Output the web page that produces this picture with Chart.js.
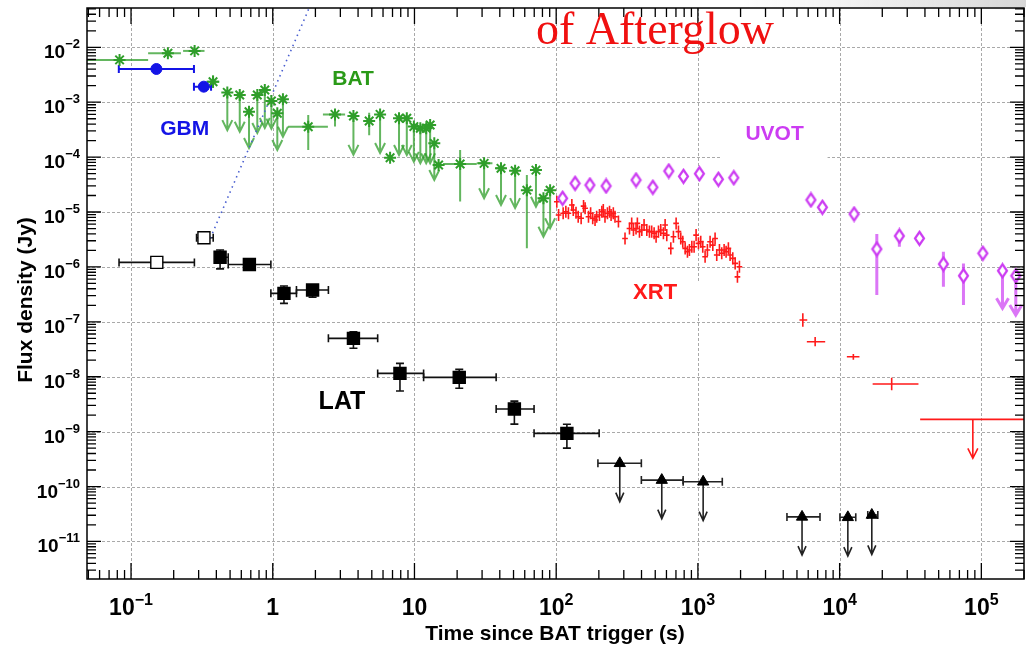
<!DOCTYPE html>
<html>
<head>
<meta charset="utf-8">
<script src="https://cdn.jsdelivr.net/npm/chart.js@4.4.1/dist/chart.umd.min.js"></script>
<style>
  html, body { margin: 0; padding: 0; background: #fff; }
  canvas { display: block; }
</style>
</head>
<body>
<canvas id="lc" width="1026" height="653"></canvas>
<script>
// ---- axis ticks (decade exponents) ----
const xTickExp = [-1, 0, 1, 2, 3, 4, 5];
const yTickExp = [-2, -3, -4, -5, -6, -7, -8, -9, -10, -11];

// ---- GBM ----
const gbmT   = [0.151, 0.326];
const gbmF   = [4.03e-3, 1.92e-3];
const gbmTLo = [0.082, 0.278];
const gbmTHi = [0.278, 0.367];

// ---- BAT (ul = upper limit, fLo is then the arrow end) ----
const batT   = [0.083, 0.182, 0.281, 0.379, 0.478, 0.585, 0.68, 0.778, 0.879, 0.978, 1.077, 1.18,
                1.78, 2.75, 3.71, 4.79, 5.72, 6.73, 7.78, 8.83, 9.9, 11.0, 12.1, 12.9, 13.8, 14.8,
                21, 31, 40.8, 51.3, 62.1, 72, 81.3, 90.6];
const batF   = [5.9e-3, 7.8e-3, 8.6e-3, 2.36e-3, 1.51e-3, 1.35e-3, 6.7e-4, 1.35e-3, 1.67e-3, 1.05e-3, 6.3e-4, 1.13e-3,
                3.58e-4, 6.0e-4, 5.6e-4, 4.55e-4, 6.0e-4, 9.75e-5, 5.1e-4, 5.1e-4, 3.6e-4, 3.35e-4, 3.35e-4, 3.85e-4, 1.78e-4, 7.2e-5,
                7.5e-5, 7.7e-5, 6.25e-5, 5.65e-5, 2.5e-5, 5.8e-5, 1.78e-5, 2.5e-5];
const batTLo = [0.03, 0.132, 0.233, 0.34, null, null, null, null, null, null, null, null,
                1.28, 2.26, null, null, null, null, null, null, null, null, null, null, null, null,
                15.9, 27.5, 37.5, null, null, null, null, null];
const batTHi = [0.132, 0.225, 0.33, 0.42, null, null, null, null, null, null, null, null,
                2.45, 3.24, null, null, null, null, null, null, null, null, null, null, null, null,
                27.5, 35.5, 44, null, null, null, null, null];
const batFLo = [null, null, null, 1.82e-3, 3.1e-4, 2.9e-4, 1.47e-4, 2.75e-4, 3.4e-4, 3.3e-4, 1.35e-4, 2.35e-4,
                1.35e-4, 3.6e-4, 1.1e-4, 2.5e-4, 1.19e-4, null, 1.09e-4, 1.09e-4, 8.2e-5, 7.7e-5, 7.7e-5, 7.7e-5, 3.83e-5, null,
                1.55e-5, 1.78e-5, 1.34e-5, 1.18e-5, 2.2e-6, 1.25e-5, 3.55e-6, 5.05e-6];
const batFHi = [null, null, null, 3.1e-3, null, null, null, null, null, null, null, null,
                5.85e-4, 7.2e-4, null, 6.45e-4, null, null, null, null, null, null, null, null, null, null,
                1.35e-4, null, null, null, 4.7e-5, null, null, null];
const batUL  = [0, 0, 0, 0, 1, 1, 1, 1, 1, 1, 1, 1,
                0, 0, 1, 0, 1, 0, 1, 1, 1, 1, 1, 1, 1, 0,
                0, 1, 1, 1, 0, 1, 1, 1];

// ---- LAT detections (first two open) ----
const latT   = [0.152, 0.327, 0.425, 0.684, 1.2, 1.91, 3.71, 7.9, 20.7, 50.7, 119];
const latF   = [1.21e-6, 3.4e-6, 1.5e-6, 1.11e-6, 3.3e-7, 3.8e-7, 5.0e-8, 1.15e-8, 9.75e-9, 2.58e-9, 9.3e-10];
const latTLo = [0.0823, 0.29, 0.40, 0.485, 0.97, 1.47, 2.47, 5.5, 11.6, 37.7, 69.8];
const latTHi = [0.28, 0.38, 0.485, 0.97, 1.47, 2.47, 5.5, 11.6, 37.7, 69.8, 201];
const latFLo = [1.12e-6, 3.1e-6, 9.2e-7, 1.0e-6, 2.17e-7, 2.8e-7, 3.3e-8, 5.5e-9, 6.15e-9, 1.37e-9, 5.0e-10];
const latFHi = [1.3e-6, 3.75e-6, 2.03e-6, 1.22e-6, 4.5e-7, 4.6e-7, 6.6e-8, 1.75e-8, 1.36e-8, 3.6e-9, 1.36e-9];
const latOpen = 2;

// ---- LAT upper limits ----
const latLimT   = [281, 556, 1089, 5430, 11430, 16870];
const latLimF   = [2.65e-10, 1.31e-10, 1.22e-10, 2.8e-11, 2.75e-11, 3.03e-11];
const latLimTLo = [197, 399, 787, 4250, 10050, 15800];
const latLimTHi = [399, 787, 1486, 7270, 13000, 18600];
const latLimEnd = [5.3e-11, 2.6e-11, 2.4e-11, 5.65e-12, 5.4e-12, 5.8e-12];

// ---- XRT (dense part) ----
const xrtT = [101, 104, 112, 117, 122, 129, 132, 138, 143, 150,
              156, 160, 169, 175, 181, 188, 193, 202, 210, 215,
              221, 230, 238, 244, 253, 260, 275, 306, 329, 341,
              351, 366, 374, 387, 402, 417, 436, 455, 472, 491,
              507, 527, 547, 571, 587, 603, 644, 672, 702, 729,
              757, 782, 813, 844, 871, 906, 940, 971, 1009, 1047,
              1082, 1124, 1167, 1219, 1274, 1322, 1358, 1419, 1473, 1531,
              1581, 1641, 1687, 1762, 1832, 1901, 1963];
const xrtF = [1.54e-5, 8.8e-6, 9.5e-6, 1.01e-5, 9.5e-6, 1.34e-5, 1.09e-5, 9.7e-6, 8.2e-6, 7.7e-6,
              1.28e-5, 1.17e-5, 8.2e-6, 9.5e-6, 7.7e-6, 7.15e-6, 8.2e-6, 8.8e-6, 1.01e-5, 1.09e-5,
              8.2e-6, 9.5e-6, 1.01e-5, 8.8e-6, 9.5e-6, 8.2e-6, 6.7e-6, 3.3e-6, 5.0e-6, 6.2e-6,
              4.7e-6, 5.0e-6, 6.2e-6, 4.4e-6, 4.7e-6, 5.8e-6, 4.7e-6, 4.4e-6, 4.4e-6, 4.1e-6,
              3.55e-6, 4.4e-6, 4.7e-6, 4.1e-6, 5.8e-6, 3.8e-6, 2.18e-6, 3.55e-6, 6.2e-6, 4.4e-6,
              3.3e-6, 2.88e-6, 2.18e-6, 1.89e-6, 2.03e-6, 2.33e-6, 2.33e-6, 3.8e-6, 2.69e-6, 2.88e-6,
              2.33e-6, 1.53e-6, 2.03e-6, 2.88e-6, 2.5e-6, 3.3e-6, 1.65e-6, 2.03e-6, 1.77e-6, 2.03e-6,
              1.89e-6, 2.18e-6, 1.65e-6, 1.43e-6, 1.16e-6, 6.6e-7, 1.01e-6];

// ---- XRT late points ----
const xrtLateT   = [5500, 6720, 12500, 23300];
const xrtLateF   = [1.08e-7, 4.35e-8, 2.31e-8, 7.36e-9];
const xrtLateTLo = [5210, 5870, 11250, 17100];
const xrtLateTHi = [5910, 7910, 13800, 36000];
const xrtLateFLo = [8.15e-8, 3.6e-8, 2.04e-8, 5.7e-9];
const xrtLateFHi = [1.43e-7, 5.3e-8, 2.6e-8, 9.6e-9];
const xrtLimT   = [87100];
const xrtLimF   = [1.67e-9];
const xrtLimTLo = [37000];
const xrtLimTHi = [250000];
const xrtLimEnd = [3.27e-10];

// ---- UVOT ----
const uvT   = [111, 136, 173, 225, 366, 481, 623, 791, 1025, 1396, 1792,
               6270, 7560, 12650, 18300, 26400, 36600, 54000, 74800, 102500, 141000, 175000];
const uvF   = [1.78e-5, 3.33e-5, 3.1e-5, 2.98e-5, 3.83e-5, 2.82e-5, 5.58e-5, 4.47e-5, 4.99e-5, 3.95e-5, 4.22e-5,
               1.66e-5, 1.22e-5, 9.2e-6, 2.12e-6, 3.66e-6, 3.32e-6, 1.13e-6, 6.9e-7, 1.77e-6, 8.5e-7, 6.9e-7];
const uvFLo = [null, null, null, null, null, null, null, null, null, null, null,
               null, null, null, 3.08e-7, 2.33e-6, 2.5e-6, 4.36e-7, 2.02e-7, null, 1.76e-7, 1.33e-7];
const uvFHi = [null, null, null, null, null, null, null, null, null, null, null,
               null, null, null, 3.97e-6, 4.38e-6, 4.1e-6, 1.89e-6, 1.16e-6, null, null, null];
const uvUL  = [0, 0, 0, 0, 0, 0, 0, 0, 0, 0, 0, 0, 0, 0, 0, 0, 0, 0, 0, 0, 1, 1];

// ---- dotted steep rise ----
const riseT = [0.35, 2.2];
const riseF = [2.7e-6, 0.17];

const FONT = '"Liberation Sans", Arial, Helvetica, sans-serif';
const GREEN = '#2f9e2a';
const BLUE = '#1414e6';
const RED = '#ff1a1a';
const VIOLET = '#cc3cf2';

// instrument labels, anchored in data space
const instLabels = [
    { text: 'BAT',  t: 3.69,  f: 2.65e-3, color: '#2a9a18', size: 21 },
    { text: 'GBM',  t: 0.239, f: 3.25e-4, color: BLUE, size: 21 },
    { text: 'UVOT', t: 3475,  f: 2.64e-4, color: VIOLET, size: 21, box: [106, 48, 2] },
    { text: 'XRT',  t: 499,   f: 3.34e-7, color: RED, size: 22, box: [100, 32, 5] },
    { text: 'LAT',  t: 3.08,  f: 3.39e-9, color: '#000', size: 25 }
];

function pts(tArr, fArr) {
    return tArr.map((t, i) => ({ x: t, y: fArr[i] }));
}

function errs(n, tLo, tHi, fLo, fHi, ul) {
    const out = [];
    for (let i = 0; i < n; i++) {
        out.push({
            xlo: tLo ? tLo[i] : null, xhi: tHi ? tHi[i] : null,
            ylo: fLo ? fLo[i] : null, yhi: fHi ? fHi[i] : null,
            ul: ul ? !!ul[i] : false
        });
    }
    return out;
}

// narrow open diamond for UVOT
function diamond() {
    const c = document.createElement('canvas');
    c.width = 13; c.height = 17;
    const g = c.getContext('2d');
    g.beginPath();
    g.moveTo(6.5, 2); g.lineTo(11, 8.5); g.lineTo(6.5, 15); g.lineTo(2, 8.5); g.closePath();
    g.fillStyle = '#fff'; g.fill();
    g.lineWidth = 2.2; g.strokeStyle = VIOLET; g.stroke();
    return c;
}

const errorBarPlugin = {
    id: 'errorBars',
    beforeDatasetsDraw(chart) {
        const { ctx, chartArea: a, scales: { x, y } } = chart;
        ctx.save();
        ctx.beginPath();
        ctx.rect(a.left, a.top, a.right - a.left, a.bottom - a.top);
        ctx.clip();
        chart.data.datasets.forEach((ds, i) => {
            const st = ds.errStyle;
            if (!st) return;
            const meta = chart.getDatasetMeta(i);
            ctx.strokeStyle = st.color;
            ctx.lineWidth = st.width;
            meta.data.forEach((pt, j) => {
                const px = pt.x, py = pt.y;
                let e = ds.err ? ds.err[j] : null;
                if (st.dex) {
                    const r = ds.data[j];
                    e = {
                        xlo: r.x / Math.pow(10, st.dex[0]), xhi: r.x * Math.pow(10, st.dex[0]),
                        ylo: r.y / Math.pow(10, st.dex[1]), yhi: r.y * Math.pow(10, st.dex[1])
                    };
                }
                if (!e) return;
                ctx.beginPath();
                if (e.xlo != null) {
                    const xl = x.getPixelForValue(e.xlo), xh = x.getPixelForValue(e.xhi);
                    ctx.moveTo(xl, py); ctx.lineTo(xh, py);
                    if (st.cap) {
                        ctx.moveTo(xl, py - st.cap); ctx.lineTo(xl, py + st.cap);
                        ctx.moveTo(xh, py - st.cap); ctx.lineTo(xh, py + st.cap);
                    }
                }
                if (e.ul && e.ylo != null) {
                    const yb = y.getPixelForValue(e.ylo);
                    ctx.moveTo(px, py); ctx.lineTo(px, yb);
                    ctx.moveTo(px - st.head[0], yb - st.head[1]);
                    ctx.lineTo(px, yb);
                    ctx.lineTo(px + st.head[0], yb - st.head[1]);
                } else {
                    if (e.ylo != null) {
                        const yl = y.getPixelForValue(e.ylo);
                        ctx.moveTo(px, py); ctx.lineTo(px, yl);
                        if (st.cap) { ctx.moveTo(px - st.cap, yl); ctx.lineTo(px + st.cap, yl); }
                    }
                    if (e.yhi != null) {
                        const yh = y.getPixelForValue(e.yhi);
                        ctx.moveTo(px, py); ctx.lineTo(px, yh);
                        if (st.cap) { ctx.moveTo(px - st.cap, yh); ctx.lineTo(px + st.cap, yh); }
                    }
                }
                ctx.stroke();
            });
        });
        ctx.restore();
    }
};

function drawPow(ctx, exp, x, base, big, small, raise, align) {
    let main = '10', sup = null;
    if (exp === 0) main = '1';
    else if (exp !== 1) sup = String(exp).replace('-', '\u2212');
    ctx.font = 'bold ' + big + 'px ' + FONT;
    const wm = ctx.measureText(main).width;
    let ws = 0;
    if (sup) {
        ctx.font = 'bold ' + small + 'px ' + FONT;
        ws = ctx.measureText(sup).width;
    }
    const x0 = align === 'right' ? x - wm - ws : x - (wm + ws) / 2;
    ctx.textAlign = 'left';
    ctx.textBaseline = 'alphabetic';
    ctx.font = 'bold ' + big + 'px ' + FONT;
    ctx.fillText(main, x0, base);
    if (sup) {
        ctx.font = 'bold ' + small + 'px ' + FONT;
        ctx.fillText(sup, x0 + wm, base - raise);
    }
}

const framePlugin = {
    id: 'frame',
    beforeDraw(chart) {
        const { ctx } = chart;
        const g = ctx.createLinearGradient(740, 0, 1026, 0);
        g.addColorStop(0, 'rgba(220,220,220,0)');
        g.addColorStop(1, 'rgba(215,215,215,1)');
        ctx.save();
        ctx.fillStyle = g;
        ctx.fillRect(740, 0, 286, 7);
        ctx.restore();
    },
    beforeDatasetsDraw(chart) {
        const { ctx, chartArea: a, scales: { x, y } } = chart;
        ctx.save();
        ctx.strokeStyle = '#a9a9a9';
        ctx.lineWidth = 1;
        ctx.setLineDash([3, 2]);
        xTickExp.forEach(e => {
            const px = Math.round(x.getPixelForValue(Math.pow(10, e))) + 0.5;
            ctx.beginPath(); ctx.moveTo(px, a.top); ctx.lineTo(px, a.bottom); ctx.stroke();
        });
        yTickExp.forEach(e => {
            const py = Math.round(y.getPixelForValue(Math.pow(10, e))) + 0.5;
            ctx.beginPath(); ctx.moveTo(a.left, py); ctx.lineTo(a.right, py); ctx.stroke();
        });
        ctx.setLineDash([]);
        // white boxes behind some labels
        ctx.fillStyle = '#fff';
        instLabels.forEach(l => {
            if (!l.box) return;
            const cx = x.getPixelForValue(l.t), cy = y.getPixelForValue(l.f) + l.box[2];
            ctx.fillRect(cx - l.box[0] / 2, cy - l.box[1] / 2, l.box[0], l.box[1]);
        });
        ctx.restore();
    },
    afterDatasetsDraw(chart) {
        const { ctx, chartArea: a, scales: { x, y } } = chart;
        ctx.save();
        ctx.strokeStyle = '#000';
        ctx.lineWidth = 1.5;
        ctx.strokeRect(a.left, a.top, a.right - a.left, a.bottom - a.top);

        // minor + major ticks on all four sides
        ctx.lineWidth = 1.3;
        ctx.beginPath();
        for (let d = -2; d <= 5; d++) {
            for (let m = 1; m <= 9; m++) {
                const v = m * Math.pow(10, d);
                if (v < x.min || v > x.max) continue;
                const px = x.getPixelForValue(v);
                const len = m === 1 ? 16 : 9;
                ctx.moveTo(px, a.bottom); ctx.lineTo(px, a.bottom - len);
                ctx.moveTo(px, a.top); ctx.lineTo(px, a.top + len);
            }
        }
        for (let d = -12; d <= -1; d++) {
            for (let m = 1; m <= 9; m++) {
                const v = m * Math.pow(10, d);
                if (v < y.min || v > y.max) continue;
                const py = y.getPixelForValue(v);
                const len = m === 1 ? 14 : 9;
                ctx.moveTo(a.left, py); ctx.lineTo(a.left + len, py);
                ctx.moveTo(a.right, py); ctx.lineTo(a.right - len, py);
            }
        }
        ctx.stroke();

        // tick labels
        ctx.fillStyle = '#000';
        xTickExp.forEach(e => {
            drawPow(ctx, e, x.getPixelForValue(Math.pow(10, e)), 615, 23, 16, 10, 'center');
        });
        yTickExp.forEach(e => {
            const py = y.getPixelForValue(Math.pow(10, e));
            drawPow(ctx, e, 80, py + 11, 19, 13, 10, 'right');
        });

        // axis titles
        ctx.font = 'bold 21px ' + FONT;
        ctx.textAlign = 'center';
        ctx.textBaseline = 'alphabetic';
        ctx.fillText('Time since BAT trigger (s)', 555, 640);
        ctx.save();
        ctx.translate(32, 300);
        ctx.rotate(-Math.PI / 2);
        ctx.fillText('Flux density (Jy)', 0, 0);
        ctx.restore();

        // instrument labels
        ctx.textBaseline = 'middle';
        instLabels.forEach(l => {
            ctx.font = 'bold ' + l.size + 'px ' + FONT;
            ctx.fillStyle = l.color;
            ctx.fillText(l.text, x.getPixelForValue(l.t), y.getPixelForValue(l.f));
        });

        // heading fragment
        ctx.font = '46px "Liberation Serif", "Times New Roman", serif';
        ctx.fillStyle = '#f01010';
        ctx.textAlign = 'left';
        ctx.textBaseline = 'alphabetic';
        ctx.fillText('of Afterglow', 536, 44);
        ctx.restore();
    }
};

const batErr = errs(batT.length, batTLo, batTHi, batFLo, batFHi, batUL);
const latErr = errs(latT.length, latTLo, latTHi, latFLo, latFHi, null);
const latLimErr = errs(latLimT.length, latLimTLo, latLimTHi, latLimEnd, null, latLimT.map(() => 1));
const gbmErr = errs(gbmT.length, gbmTLo, gbmTHi, null, null, null);
const xrtLateErr = errs(xrtLateT.length, xrtLateTLo, xrtLateTHi, xrtLateFLo, xrtLateFHi, null);
const xrtLimErr = errs(xrtLimT.length, xrtLimTLo, xrtLimTHi, xrtLimEnd, null, [1]);
const uvErr = errs(uvT.length, null, null, uvFLo, uvFHi, uvUL);

const ctx = document.getElementById('lc').getContext('2d');
new Chart(ctx, {
    type: 'scatter',
    data: {
        datasets: [
            {
                label: 'GBM', data: pts(gbmT, gbmF), err: gbmErr,
                errStyle: { color: BLUE, width: 2, cap: 4 },
                pointStyle: 'circle', pointRadius: 5.5, backgroundColor: BLUE, borderColor: BLUE, borderWidth: 1
            },
            {
                label: 'LAT', data: pts(latT, latF), err: latErr,
                errStyle: { color: '#111', width: 1.6, cap: 4 },
                pointStyle: 'rect', pointRadius: 8.5,
                backgroundColor: latT.map((t, i) => i < latOpen ? '#fff' : '#000'),
                borderColor: '#000', borderWidth: 1.4
            },
            {
                label: 'LAT UL', data: pts(latLimT, latLimF), err: latLimErr,
                errStyle: { color: '#222', width: 1.6, cap: 4, head: [4, 9] },
                pointStyle: 'triangle', pointRadius: 6.5, backgroundColor: '#000', borderColor: '#000', borderWidth: 1
            },
            {
                label: 'BAT', data: pts(batT, batF), err: batErr,
                errStyle: { color: 'rgba(47,158,42,0.75)', width: 2, head: [5, 10] },
                pointStyle: 'star', pointRadius: 6, backgroundColor: GREEN, borderColor: GREEN, borderWidth: 2
            },
            {
                label: 'UVOT', data: pts(uvT, uvF), err: uvErr,
                errStyle: { color: 'rgba(204,60,242,0.7)', width: 3, head: [6, 10] },
                pointStyle: diamond(), pointRadius: 6
            },
            {
                label: 'XRT', data: pts(xrtT, xrtF),
                errStyle: { color: RED, width: 1.6, dex: [0.02, 0.11] },
                pointRadius: 0
            },
            {
                label: 'XRT late', data: pts(xrtLateT, xrtLateF), err: xrtLateErr,
                errStyle: { color: RED, width: 1.6 },
                pointRadius: 0
            },
            {
                label: 'XRT UL', data: pts(xrtLimT, xrtLimF), err: xrtLimErr,
                errStyle: { color: RED, width: 1.6, head: [5, 10] },
                pointRadius: 0
            },
            {
                label: 'rise', data: pts(riseT, riseF), showLine: true,
                borderColor: '#4a5fd0', borderWidth: 1.6, borderDash: [1.5, 4],
                pointRadius: 0, fill: false
            }
        ]
    },
    options: {
        responsive: false,
        animation: false,
        layout: { autoPadding: false, padding: { left: 87, top: 8, right: 2, bottom: 74 } },
        plugins: {
            legend: { display: false },
            tooltip: { enabled: false }
        },
        scales: {
            x: { type: 'logarithmic', min: 0.0489, max: 2.0e5, display: false },
            y: { type: 'logarithmic', min: 2.07e-12, max: 0.052, display: false }
        }
    },
    plugins: [framePlugin, errorBarPlugin]
});
</script>
</body>
</html>
